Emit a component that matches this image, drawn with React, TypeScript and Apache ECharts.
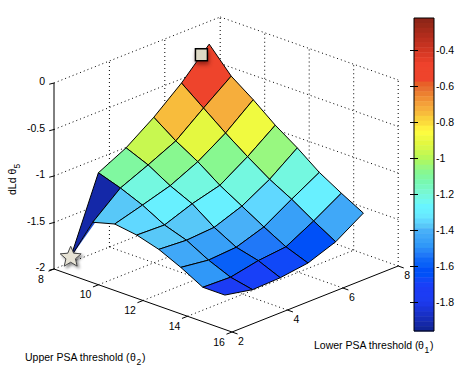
import React, { useEffect, useRef } from "react";
import * as echarts from "echarts";

// Grid of the surface
const lowerThreshold = [2, 3, 4, 5, 6, 7];
const upperThreshold = [8.75, 9.74, 10.73, 11.72, 12.71, 13.7, 14.69, 15.68];
// dLd theta5 at each grid vertex, rows follow lowerThreshold, columns follow upperThreshold
const surfaceZ = [
  [-1.81, -1.35, -1.285, -1.32, -1.39, -1.5, -1.63, -1.63],
  [-1.02, -1.1, -1.2, -1.33, -1.41, -1.54, -1.64, -1.69],
  [-0.87, -0.97, -1.11, -1.22, -1.39, -1.52, -1.58, -1.68],
  [-0.66, -0.83, -0.97, -1.14, -1.28, -1.42, -1.55, -1.64],
  [-0.41, -0.595, -0.78, -0.95, -1.11, -1.24, -1.39, -1.53],
  [-0.11, -0.37, -0.54, -0.73, -0.89, -1.07, -1.21, -1.34],
];
// colour value of each facet
const facetValues = [
  [-1.92, -1.376, -1.348, -1.376, -1.43, -1.485, -1.73],
  [-1.104, -1.2, -1.293, -1.376, -1.457, -1.59, -1.7],
  [-0.968, -1.076, -1.2, -1.293, -1.403, -1.54, -1.675],
  [-0.755, -0.914, -1.076, -1.2, -1.348, -1.457, -1.62],
  [-0.5, -0.72, -0.886, -1.05, -1.2, -1.293, -1.43],
];
const foldTip = [2, 9.93, -1.31];
const foldColor = "#1a46c8";
const starPoint = [2, 8.75, -1.81];
const squarePoint = [6.72, 8.75, -0.19];

const lowerTicks = [2, 4, 6, 8];
const upperTicks = [8, 10, 12, 14, 16];
const zTicks = [-2, -1.5, -1, -0.5, 0];
const colorbarTicks = [-1.8, -1.6, -1.4, -1.2, -1, -0.8, -0.6, -0.4];
const colorbarMin = -1.96;
const colorbarMax = -0.22;
const colormap = [
  "#8f2518", "#982818", "#a52a1a", "#b02c1c", "#bb2f1e", "#c53220", "#d03622", "#da3a26", "#e53e28", "#ee422c",
  "#ee442c", "#ee442c", "#ee442c", "#e86028", "#e87030", "#ec8030", "#f09034", "#f4a03a", "#f6ae3c", "#f8bc3c",
  "#fad03c", "#fcdc3c", "#fff040", "#fcfc40", "#f0fa40", "#e4f840", "#d8f848", "#c8f850", "#b8f858", "#a8f868",
  "#98f880", "#88f890", "#80f8a0", "#78f8b0", "#78f8c0", "#78f8d0", "#74f8e0", "#70f8f0", "#68f4ff", "#68f0ff",
  "#68e8ff", "#60d8ff", "#58c8f8", "#48b0f8", "#40a8f8", "#38a0f8", "#3098f8", "#2888f8", "#2078f8", "#1068f8",
  "#0860f8", "#0050f8", "#0050f8", "#1048f8", "#1840f8", "#1c3cf4", "#1c3cf4", "#1c3cf0", "#1c38e8", "#1a34d8",
  "#1830c8", "#162cb8", "#1428a8", "#102498",
];

const FONT = '"Liberation Sans", Arial, sans-serif';

// orthographic view of the MATLAB axes box
const project = (t1: number, t2: number, z: number): number[] => [
  232 + 27.7 * (t1 - 2) - 22.25 * (16 - t2),
  332 - 11 * (t1 - 2) - 7.875 * (16 - t2) - 93 * (z + 2),
];
const colorOf = (v: number) => {
  const k = Math.floor(((colorbarMax - v) / (colorbarMax - colorbarMin)) * colormap.length);
  return colormap[Math.max(0, Math.min(colormap.length - 1, k))];
};

export default function App() {
  const ref = useRef<HTMLDivElement>(null);
  useEffect(() => {
    const chart = echarts.init(ref.current!, null, { renderer: "svg" });
    const L0 = lowerTicks[0];
    const L1 = lowerTicks[lowerTicks.length - 1];
    const U0 = upperTicks[0];
    const U1 = upperTicks[upperTicks.length - 1];
    const Z0 = zTicks[0];
    const Z1 = zTicks[zTicks.length - 1];

    const dotted: number[][][] = [];
    zTicks.forEach((z) => {
      dotted.push([[L0, U0, z], [L1, U0, z]]);
      dotted.push([[L1, U0, z], [L1, U1, z]]);
    });
    lowerTicks.slice(1).forEach((t) => {
      dotted.push([[t, U0, Z0], [t, U0, Z1]]);
      if (t < L1) dotted.push([[t, U0, Z0], [t, U1, Z0]]);
    });
    upperTicks.slice(1).forEach((t) => {
      dotted.push([[L1, t, Z0], [L1, t, Z1]]);
      if (t < U1) dotted.push([[L0, t, Z0], [L1, t, Z0]]);
    });

    const solid: number[][][] = [
      [[L0, U0, Z0], [L0, U0, Z1]],
      [[L0, U0, Z0], [L0, U1, Z0]],
      [[L0, U1, Z0], [L1, U1, Z0]],
    ];
    zTicks.forEach((z) => solid.push([[L0, U0, z], [L0 - 0.14, U0 - 0.04, z]]));
    upperTicks.forEach((t) => solid.push([[L0, t, Z0], [L0 - 0.2, t, Z0]]));
    lowerTicks.forEach((t) => solid.push([[t, U1, Z0], [t, U1 + 0.25, Z0]]));

    const cells: number[][] = [];
    for (let i = facetValues.length - 1; i >= 0; i--) {
      for (let j = 0; j < facetValues[i].length; j++) cells.push([i, j]);
    }

    const segSeries = (data: number[][][], style: any) => ({
      type: "custom",
      silent: true,
      clip: false,
      data: data.map((_, k) => [k, k]),
      encode: { x: 0, y: 1 },
      renderItem: (_p: any, api: any) => {
        const s = data[api.value(0)];
        const a = api.coord(project(s[0][0], s[0][1], s[0][2]));
        const b = api.coord(project(s[1][0], s[1][1], s[1][2]));
        return { type: "line", shape: { x1: a[0], y1: a[1], x2: b[0], y2: b[1] }, style };
      },
    });

    const labels: { text: string; p: number[]; dx: number; dy: number; align: string }[] = [];
    zTicks.forEach((z) => labels.push({ text: String(z), p: [L0, U0, z], dx: -9, dy: -2, align: "right" }));
    upperTicks.forEach((t) => labels.push({ text: String(t), p: [L0, t, Z0], dx: -13, dy: 9.5, align: "center" }));
    lowerTicks.forEach((t) => labels.push({ text: String(t), p: [t, U1, Z0], dx: 9, dy: 8.5, align: "center" }));

    const option: any = {
      animation: false,
      backgroundColor: "#fff",
      grid: [
        { left: 0, top: 0, width: 462, height: 374 },
        { left: 414, top: 18, width: 20, height: 313 },
      ],
      xAxis: [
        { type: "value", min: 0, max: 462, show: false, gridIndex: 0 },
        { type: "value", min: 0, max: 1, show: false, gridIndex: 1 },
      ],
      yAxis: [
        { type: "value", min: 0, max: 374, inverse: true, show: false, gridIndex: 0 },
        {
          type: "value",
          gridIndex: 1,
          min: colorbarMin,
          max: colorbarMax,
          position: "right",
          splitLine: { show: false },
          axisLine: { show: false },
          axisTick: { show: true, inside: true, length: 4, customValues: colorbarTicks, lineStyle: { color: "#000" } },
          axisLabel: { show: true, margin: 2, customValues: colorbarTicks, color: "#000", fontFamily: FONT, fontSize: 10.5, formatter: (v: number) => String(v) },
          z: 10,
        },
        {
          type: "value",
          gridIndex: 1,
          min: colorbarMin,
          max: colorbarMax,
          position: "left",
          splitLine: { show: false },
          axisLine: { show: false },
          axisTick: { show: true, inside: true, length: 4, customValues: colorbarTicks, lineStyle: { color: "#000" } },
          axisLabel: { show: false },
          z: 10,
        },
      ],
      series: [
        segSeries(dotted, { stroke: "#000", lineWidth: 1, lineDash: [1, 3], fill: null }),
        segSeries(solid, { stroke: "#000", lineWidth: 1, fill: null }),
        {
          type: "custom",
          silent: true,
          clip: false,
          data: labels.map((_, k) => [k, k]),
          encode: { x: 0, y: 1 },
          renderItem: (_p: any, api: any) => {
            const l = labels[api.value(0)];
            const c = api.coord(project(l.p[0], l.p[1], l.p[2]));
            return {
              type: "text",
              style: { text: l.text, x: c[0] + l.dx, y: c[1] + l.dy, align: l.align, verticalAlign: "middle", fill: "#000", font: `10.5px ${FONT}` },
            };
          },
        },
        {
          type: "custom",
          silent: true,
          clip: false,
          data: [[0, 0]],
          encode: { x: 0, y: 1 },
          renderItem: (_p: any, api: any) => {
            const pts = [foldTip, starPoint, [lowerThreshold[0], upperThreshold[1], surfaceZ[0][1]]].map((q) =>
              api.coord(project(q[0], q[1], q[2]))
            );
            return { type: "polygon", shape: { points: pts }, style: { fill: foldColor, stroke: null } };
          },
        },
        {
          type: "custom",
          silent: true,
          clip: false,
          data: cells,
          encode: { x: 0, y: 1 },
          renderItem: (_p: any, api: any) => {
            const i = api.value(0);
            const j = api.value(1);
            const corners = [
              [i, j],
              [i, j + 1],
              [i + 1, j + 1],
              [i + 1, j],
            ];
            const pts = corners.map(([a, b]) => api.coord(project(lowerThreshold[a], upperThreshold[b], surfaceZ[a][b])));
            return {
              type: "polygon",
              shape: { points: pts },
              style: { fill: colorOf(facetValues[i][j]), stroke: "#000", lineWidth: 1, lineJoin: "round" },
            };
          },
        },
        {
          type: "custom",
          silent: true,
          clip: false,
          data: [[0, 0]],
          encode: { x: 0, y: 1 },
          renderItem: (_p: any, api: any) => {
            const c = api.coord(project(starPoint[0], starPoint[1], starPoint[2]));
            const pts: number[][] = [];
            for (let k = 0; k < 10; k++) {
              const r = k % 2 === 0 ? 11 : 5;
              const ang = -Math.PI / 2 + (k * Math.PI) / 5;
              pts.push([c[0] + r * Math.cos(ang), c[1] + r * Math.sin(ang)]);
            }
            return {
              type: "polygon",
              shape: { points: pts },
              style: { fill: "#e6e2d4", stroke: "#444", lineWidth: 1, shadowColor: "rgba(0,0,0,0.45)", shadowBlur: 3, shadowOffsetX: 2, shadowOffsetY: 2 },
            };
          },
        },
        {
          type: "custom",
          silent: true,
          clip: false,
          data: [[0, 0]],
          encode: { x: 0, y: 1 },
          renderItem: (_p: any, api: any) => {
            const c = api.coord(project(squarePoint[0], squarePoint[1], squarePoint[2]));
            return {
              type: "rect",
              shape: { x: c[0] - 6, y: c[1] - 6, width: 12, height: 12 },
              style: { fill: "#ddd8c5", stroke: "#000", lineWidth: 1.5, shadowColor: "rgba(60,0,0,0.5)", shadowBlur: 4, shadowOffsetX: 1, shadowOffsetY: 3 },
            };
          },
        },
        {
          type: "custom",
          xAxisIndex: 1,
          yAxisIndex: 1,
          silent: true,
          clip: false,
          data: colormap.map((_, k) => [0.5, colorbarMax - ((k + 0.5) / colormap.length) * (colorbarMax - colorbarMin), k]),
          encode: { x: 0, y: 1 },
          renderItem: (_p: any, api: any) => {
            const k = api.value(2);
            const step = (colorbarMax - colorbarMin) / colormap.length;
            const a = api.coord([0, colorbarMax - k * step]);
            const b = api.coord([1, colorbarMax - (k + 1) * step]);
            return { type: "rect", shape: { x: a[0], y: a[1], width: b[0] - a[0], height: b[1] - a[1] + 0.5 }, style: { fill: colormap[k], stroke: null } };
          },
        },
        {
          type: "custom",
          xAxisIndex: 1,
          yAxisIndex: 1,
          silent: true,
          clip: false,
          data: [[0, colorbarMin]],
          encode: { x: 0, y: 1 },
          renderItem: (_p: any, api: any) => {
            const a = api.coord([0, colorbarMax]);
            const b = api.coord([1, colorbarMin]);
            return { type: "rect", shape: { x: a[0], y: a[1], width: b[0] - a[0], height: b[1] - a[1] }, style: { fill: null, stroke: "#000", lineWidth: 1 } };
          },
        },
      ],
      graphic: [
        { type: "text", x: 25, y: 351, style: { text: "Upper PSA threshold (", fill: "#000", font: `10.5px ${FONT}` } },
        { type: "text", x: 130, y: 351, style: { text: "θ", fill: "#000", font: `10.5px ${FONT}` } },
        { type: "text", x: 136.5, y: 357, style: { text: "2", fill: "#000", font: `8.5px ${FONT}` } },
        { type: "text", x: 142, y: 351, style: { text: ")", fill: "#000", font: `10.5px ${FONT}` } },
        { type: "text", x: 314, y: 339, style: { text: "Lower PSA threshold (", fill: "#000", font: `10.5px ${FONT}` } },
        { type: "text", x: 418, y: 339, style: { text: "θ", fill: "#000", font: `10.5px ${FONT}` } },
        { type: "text", x: 424.5, y: 345, style: { text: "1", fill: "#000", font: `8.5px ${FONT}` } },
        { type: "text", x: 430, y: 339, style: { text: ")", fill: "#000", font: `10.5px ${FONT}` } },
        { type: "text", x: 6, y: 195, rotation: Math.PI / 2, style: { text: "dLd θ", fill: "#000", font: `10.5px ${FONT}` } },
        { type: "text", x: 12.5, y: 168.5, rotation: Math.PI / 2, style: { text: "5", fill: "#000", font: `8.5px ${FONT}` } },
      ],
    };
    chart.setOption(option);
    return () => chart.dispose();
  }, []);
  return <div ref={ref} style={{ position: "absolute", left: 0, top: 0, width: 462, height: 374 }} />;
}
